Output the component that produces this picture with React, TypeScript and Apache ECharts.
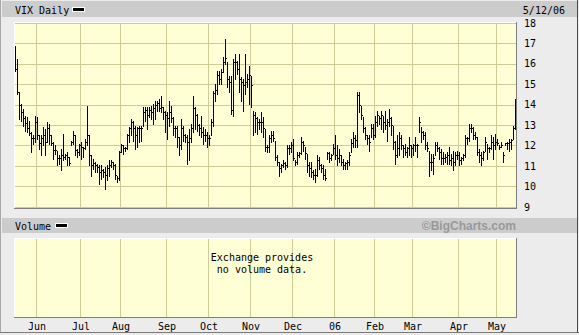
import React, { useEffect, useRef } from "react";
import * as echarts from "echarts";

// Month labels and the trading-day index where each month starts (index 0 = first bar)
const monthLabels = ["Jun", "Jul", "Aug", "Sep", "Oct", "Nov", "Dec", "06", "Feb", "Mar", "Apr", "May"];
const monthStarts = [11, 33, 53, 76, 97, 118, 139, 160, 180, 199, 222, 241];

const priceMin = 9;
const priceMax = 18;
const lastDate = "5/12/06";

const highs = [
  16.89, 16.24, 14.61, 14.04, 13.8, 13.47, 13.39, 13.23, 12.66, 12.5,
  13.47, 13.39, 12.5, 12.5, 12.9, 12.82, 13.15, 13.07, 12.5, 12.17,
  12.01, 11.76, 11.52, 11.85, 12.58, 11.6, 11.68, 11.44, 12.25, 12.74,
  12.5, 11.85, 12.09, 12.17, 11.93, 12.33, 13.96, 12.5, 11.52, 11.36,
  11.2, 11.11, 11.03, 11.03, 10.87, 10.95, 11.03, 11.28, 11.28, 11.2,
  11.11, 10.54, 11.76, 12.09, 12.01, 11.93, 12.58, 12.9, 13.31, 13.23,
  12.98, 12.9, 12.98, 12.98, 13.88, 13.88, 13.88, 13.88, 13.96, 14.04,
  14.2, 14.2, 14.28, 14.45, 13.88, 13.72, 13.63, 14.2, 13.96, 13.39,
  12.98, 12.98, 12.41, 13.31, 12.98, 12.58, 12.5, 12.82, 13.07, 14.45,
  13.88, 13.55, 13.07, 13.47, 12.9, 12.82, 12.66, 12.5, 13.31, 14.69,
  15.02, 15.67, 15.67, 15.75, 16.32, 17.21, 16.07, 15.42, 15.42, 16.24,
  16.48, 16.15, 16.48, 15.34, 15.26, 16.48, 15.5, 15.91, 15.42, 13.72,
  13.63, 13.39, 13.31, 13.63, 13.39, 12.82, 12.01, 12.5, 12.74, 12.74,
  12.25, 11.52, 11.2, 11.11, 11.28, 11.2, 12.01, 12.01, 12.17, 12.33,
  11.28, 11.68, 11.68, 12.41, 12.25, 11.93, 11.6, 11.2, 11.2, 10.79,
  10.87, 11.52, 11.44, 11.11, 11.03, 10.87, 11.68, 11.68, 11.6, 12.09,
  12.5, 12.01, 11.85, 11.52, 11.36, 11.2, 11.28, 11.68, 12.33, 12.66,
  12.5, 14.61, 14.61, 13.96, 13.39, 12.9, 12.5, 12.5, 13.07, 13.07,
  13.47, 13.72, 13.47, 13.72, 13.47, 13.72, 13.31, 13.8, 13.39, 12.98,
  12.25, 12.5, 12.66, 12.5, 12.01, 12.09, 11.93, 12.41, 12.01, 12.09,
  12.41, 12.09, 13.39, 12.9, 12.74, 12.66, 12.17, 11.76, 11.6, 11.6,
  12.17, 12.17, 11.93, 11.85, 11.68, 11.6, 11.68, 11.93, 11.6, 11.76,
  11.68, 11.76, 11.68, 11.44, 11.6, 12.5, 12.41, 13.07, 13.07, 12.9,
  12.66, 12.41, 11.85, 11.68, 11.76, 12.41, 12.09, 11.93, 12.5, 12.41,
  12.58, 12.33, 12.01, 12.17, 11.68, 12.09, 12.17, 12.33, 12.33, 12.98,
  14.28,
];

const lows = [
  15.67, 14.53, 13.31, 13.23, 12.98, 12.74, 12.66, 12.5, 11.68, 12.09,
  12.17, 12.33, 11.85, 11.52, 12.01, 11.52, 12.17, 12.09, 12.01, 11.36,
  11.6, 11.03, 11.11, 10.79, 11.28, 11.36, 11.03, 11.03, 12.01, 12.09,
  11.52, 11.44, 11.52, 11.36, 11.44, 11.85, 12.01, 11.03, 10.54, 10.87,
  10.71, 10.71, 10.14, 10.38, 10.46, 9.89, 10.3, 10.54, 10.95, 10.87,
  10.38, 10.22, 10.3, 11.68, 11.6, 11.76, 11.85, 12.17, 12.5, 12.25,
  11.85, 11.93, 12.17, 12.25, 12.98, 13.23, 12.82, 13.39, 13.31, 13.07,
  13.31, 13.72, 13.72, 13.63, 13.31, 12.66, 12.33, 12.98, 13.15, 12.5,
  12.41, 11.93, 11.52, 11.85, 12.25, 12.17, 11.11, 11.28, 12.17, 12.66,
  12.82, 12.74, 12.5, 12.41, 12.09, 12.25, 11.93, 12.01, 12.5, 12.98,
  14.2, 14.53, 15.02, 15.02, 15.59, 15.99, 14.85, 14.61, 13.55, 13.47,
  15.26, 15.5, 14.61, 14.2, 13.72, 14.53, 14.85, 14.04, 13.88, 12.5,
  12.66, 12.58, 12.82, 12.66, 12.41, 11.76, 11.68, 11.68, 12.17, 12.25,
  11.28, 11.03, 10.54, 10.71, 10.95, 10.87, 10.95, 11.6, 11.68, 11.28,
  11.03, 11.11, 11.44, 11.6, 11.76, 11.36, 10.71, 10.54, 10.46, 10.38,
  10.22, 10.54, 10.87, 10.71, 10.38, 10.3, 11.36, 11.2, 11.28, 11.6,
  11.36, 11.03, 11.2, 11.03, 10.87, 10.87, 10.87, 11.03, 11.68, 11.93,
  11.93, 11.93, 13.63, 13.31, 12.66, 12.33, 12.09, 11.76, 12.41, 12.33,
  12.41, 12.98, 13.07, 12.82, 12.66, 12.82, 12.25, 12.98, 12.5, 11.85,
  11.11, 11.44, 11.52, 11.85, 11.44, 11.52, 11.44, 11.52, 11.44, 11.52,
  11.76, 11.44, 12.66, 12.17, 12.33, 11.85, 11.76, 10.54, 10.79, 10.63,
  11.52, 11.76, 11.36, 11.11, 11.11, 11.2, 11.11, 11.11, 11.03, 10.79,
  11.03, 11.36, 11.03, 11.11, 11.28, 11.44, 12.09, 12.25, 12.66, 12.33,
  12.33, 11.52, 11.2, 11.03, 11.28, 11.76, 11.36, 11.68, 11.85, 11.36,
  11.85, 12.01, 11.85, 11.93, 11.2, 12.01, 11.85, 11.76, 11.85, 12.33,
  12.82,
];

const closes = [
  15.75, 14.61, 13.96, 13.63, 13.31, 13.07, 12.82, 12.58, 12.33, 12.33,
  13.15, 12.5, 12.09, 12.33, 12.5, 12.17, 12.82, 12.5, 12.09, 11.76,
  11.76, 11.36, 11.36, 11.52, 11.44, 11.52, 11.44, 11.11, 12.17, 12.5,
  11.76, 11.68, 12.01, 11.93, 11.85, 12.17, 12.5, 11.52, 11.03, 11.11,
  11.03, 10.95, 10.71, 10.79, 10.71, 10.54, 10.87, 11.03, 11.2, 11.03,
  10.54, 10.38, 11.68, 12.01, 11.85, 11.85, 12.5, 12.82, 13.15, 12.82,
  12.5, 12.82, 12.82, 12.82, 13.63, 13.72, 13.47, 13.72, 13.63, 13.8,
  13.96, 14.04, 13.8, 13.88, 13.63, 13.47, 13.31, 13.63, 13.31, 12.82,
  12.82, 12.41, 12.01, 12.82, 12.5, 12.41, 12.17, 12.33, 12.82, 13.8,
  13.47, 12.98, 12.82, 12.66, 12.5, 12.5, 12.33, 12.33, 13.15, 14.53,
  14.69, 15.42, 15.26, 15.59, 16.07, 16.24, 15.26, 15.1, 13.72, 16.07,
  16.07, 15.75, 15.26, 15.1, 14.93, 15.1, 15.26, 15.42, 14.93, 13.47,
  13.31, 13.15, 13.15, 13.15, 12.82, 11.93, 11.93, 12.33, 12.5, 12.33,
  11.44, 11.2, 10.87, 11.03, 11.11, 11.03, 11.85, 11.85, 12.01, 11.36,
  11.2, 11.52, 11.6, 12.17, 12.01, 11.6, 11.03, 10.87, 10.71, 10.54,
  10.54, 11.28, 11.03, 10.87, 10.54, 10.38, 11.6, 11.36, 11.52, 11.85,
  11.52, 11.36, 11.52, 11.2, 11.03, 11.11, 11.2, 11.52, 12.09, 12.33,
  12.25, 14.45, 13.96, 13.47, 12.82, 12.5, 12.33, 12.17, 12.82, 12.5,
  13.15, 13.47, 13.31, 13.47, 13.15, 12.98, 13.15, 13.31, 12.98, 12.17,
  11.52, 11.85, 12.33, 12.01, 11.85, 11.68, 11.85, 12.01, 11.85, 12.01,
  12.01, 12.01, 13.15, 12.66, 12.5, 12.01, 11.85, 11.2, 11.2, 11.36,
  12.01, 11.85, 11.68, 11.36, 11.36, 11.44, 11.52, 11.28, 11.36, 11.2,
  11.52, 11.52, 11.28, 11.36, 11.52, 12.33, 12.33, 12.82, 12.82, 12.5,
  12.41, 11.68, 11.52, 11.36, 11.68, 12.17, 11.85, 11.85, 12.17, 12.01,
  12.17, 12.09, 11.93, 12.01, 11.52, 12.09, 12.09, 12.17, 12.25, 12.82,
  14.2,
];

const MONO = '"DejaVu Sans Mono", monospace';
const GRID_COLOR = "#cccc99";
const PLOT_BG = "#ffffd6";

export default function App() {
  const ref = useRef<HTMLDivElement>(null);

  useEffect(() => {
    if (!ref.current) return;
    const chart = echarts.init(ref.current, null, { renderer: "svg" });
    const categories = highs.map((_, i) => String(i));
    const isMonthStart = (i: number) => monthStarts.indexOf(i) >= 0;
    const data = highs.map((h, i) => [i, h, lows[i], closes[i]]);

    const renderItem = (params: any, api: any) => {
      const i = api.value(0);
      const hi = api.coord([i, api.value(1)]);
      const lo = api.coord([i, api.value(2)]);
      const cl = api.coord([i, api.value(3)]);
      const x = Math.floor(hi[0]) + 0.5;
      const yTop = Math.round(hi[1]);
      const yBot = Math.round(lo[1]) + 1;
      const yc = Math.floor(cl[1]) + 0.5;
      return {
        type: "group",
        children: [
          {
            type: "line",
            shape: { x1: x, y1: yTop, x2: x, y2: yBot },
            style: { stroke: "#000", lineWidth: 1 },
          },
          {
            type: "line",
            shape: { x1: x - 0.5, y1: yc, x2: x + 1.5, y2: yc },
            style: { stroke: "#000", lineWidth: 1 },
          },
        ],
      };
    };

    const txt = (text: string, x: number, y: number, extra: any = {}) => ({
      type: "text",
      x,
      y,
      silent: true,
      z: 50,
      style: {
        text,
        font: `10px ${MONO}`,
        fill: "#000",
        textAlign: "left",
        align: "left",
        textVerticalAlign: "middle",
        verticalAlign: "middle",
        ...extra,
      },
    });
    const rect = (x: number, y: number, w: number, h: number, fill: string, z = 40) => ({
      type: "rect",
      silent: true,
      z,
      shape: { x, y, width: w, height: h },
      style: { fill },
    });
    const line = (x1: number, y1: number, x2: number, y2: number, stroke: string, z = 60) => ({
      type: "line",
      silent: true,
      z,
      shape: { x1, y1, x2, y2 },
      style: { stroke, lineWidth: 1 },
    });

    const option: any = {
      animation: false,
      grid: [
        {
          left: 14, top: 23, width: 502, height: 184,
          show: true, backgroundColor: PLOT_BG, borderWidth: 0,
          containLabel: false, outerBoundsMode: "none",
        },
        {
          left: 14, top: 239, width: 502, height: 78,
          show: true, backgroundColor: PLOT_BG, borderWidth: 0,
          containLabel: false, outerBoundsMode: "none",
        },
      ],
      xAxis: [
        {
          type: "category", gridIndex: 0, data: categories, boundaryGap: true,
          axisLine: { show: false }, axisTick: { show: false }, axisLabel: { show: false },
          splitLine: { show: true, interval: (i: number) => isMonthStart(i), lineStyle: { color: GRID_COLOR, width: 1 } },
        },
        {
          type: "category", gridIndex: 1, data: categories, boundaryGap: true,
          axisLine: { show: false }, axisTick: { show: false },
          axisLabel: {
            show: true,
            interval: (i: number) => isMonthStart(i),
            formatter: (_v: string, i: number) => {
              const k = monthStarts.indexOf(i);
              return k >= 0 ? monthLabels[k] : "";
            },
            fontFamily: MONO, fontSize: 10, color: "#000", margin: 4,
          },
          splitLine: { show: true, interval: (i: number) => isMonthStart(i), lineStyle: { color: GRID_COLOR, width: 1 } },
        },
      ],
      yAxis: [
        {
          type: "value", gridIndex: 0, position: "right", min: priceMin, max: priceMax, interval: 1,
          axisLine: { show: false }, axisTick: { show: false },
          axisLabel: { fontFamily: MONO, fontSize: 10, color: "#000", margin: 8 },
          splitLine: { show: true, lineStyle: { color: GRID_COLOR, width: 1 } },
        },
        {
          type: "value", gridIndex: 1, min: 0, max: 1,
          axisLine: { show: false }, axisTick: { show: false }, axisLabel: { show: false },
          splitLine: { show: false },
        },
      ],
      series: [
        {
          type: "custom",
          name: "VIX Daily",
          xAxisIndex: 0,
          yAxisIndex: 0,
          data,
          encode: { x: 0, y: [1, 2, 3] },
          renderItem,
          z: 5,
        },
      ],
      graphic: [
        // header bars
        rect(2, 1, 576, 16, "#cccccc"),
        rect(2, 218, 576, 15, "#cccccc"),
        // header texts and legend swatches
        txt("VIX Daily", 15, 10),
        rect(72, 7, 13, 5, "#ffffff", 45),
        rect(73, 8, 11, 3, "#000000", 46),
        txt(lastDate, 565, 10, { textAlign: "right", align: "right" }),
        txt("Volume", 15, 226),
        rect(55, 223, 13, 5, "#ffffff", 45),
        rect(56, 224, 11, 3, "#000000", 46),
        txt("\u00a9BigCharts.com", 516, 226, {
          textAlign: "right", align: "right",
          font: 'bold 12px "Liberation Sans", Arial, sans-serif', fill: "#999999",
        }),
        // volume panel message
        txt("Exchange provides", 262, 257, { textAlign: "center", align: "center" }),
        txt("no volume data.", 262, 269, { textAlign: "center", align: "center" }),
        // plot borders (price)
        line(14, 22.5, 517, 22.5, "#ffffff"),
        line(14.5, 22, 14.5, 209, "#ffffff"),
        line(14, 208.5, 517, 208.5, "#7f7f7f"),
        line(516.5, 22, 516.5, 209, "#7f7f7f"),
        // plot borders (volume)
        line(14, 238.5, 517, 238.5, "#ffffff"),
        line(14.5, 238, 14.5, 318, "#ffffff"),
        line(14, 317.5, 517, 317.5, "#7f7f7f"),
        line(516.5, 238, 516.5, 318, "#7f7f7f"),
        // outer frame
        line(0.5, 0, 0.5, 333, "#a8a8a8"),
        line(0, 332.5, 579, 332.5, "#7a7a7a"),
        line(577.5, 0, 577.5, 333, "#4a4a4a"),
      ],
    };

    chart.setOption(option);
    return () => chart.dispose();
  }, []);

  return (
    <div
      ref={ref}
      style={{ position: "absolute", left: 0, top: 0, width: 579, height: 335, background: "#ececec" }}
    />
  );
}
